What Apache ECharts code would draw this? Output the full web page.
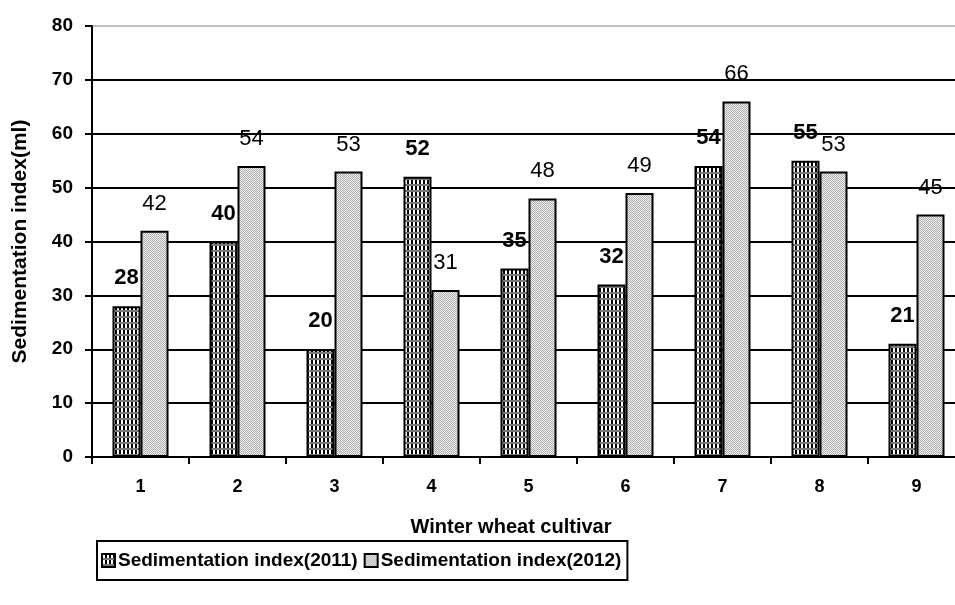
<!DOCTYPE html>
<html>
<head>
<meta charset="utf-8">
<script src="https://cdn.jsdelivr.net/npm/echarts@6/dist/echarts.min.js"></script>
<style>html,body{margin:0;padding:0;background:#fff}#c{width:955px;height:605px}</style>
</head>
<body>
<div id="c"></div>
<script>
var categories = ['1','2','3','4','5','6','7','8','9'];
var values2011 = [28, 40, 20, 52, 35, 32, 54, 55, 21];
var values2012 = [42, 54, 53, 31, 48, 49, 66, 53, 45];
var yTicks = [0, 10, 20, 30, 40, 50, 60, 70, 80];
var seriesNames = ['Sedimentation index(2011)', 'Sedimentation index(2012)'];

function makeTile(w, h, fn) {
  var c = document.createElement('canvas');
  c.width = w; c.height = h;
  var ctx = c.getContext('2d');
  for (var y = 0; y < h; y++) for (var x = 0; x < w; x++) {
    ctx.fillStyle = fn(x, y); ctx.fillRect(x, y, 1, 1);
  }
  return c;
}
var tileA = makeTile(4, 6, function (x, y) {
  if (y >= 4) return '#7a7a7a';
  return ['#000', '#fff', '#fff', '#000'][x];
});
var tileB = makeTile(2, 2, function (x, y) {
  return ((x + y) % 2) ? '#eeeeee' : '#b0b0b0';
});
var patA = { image: tileA, repeat: 'repeat' };
var patB = { image: tileB, repeat: 'repeat' };

var FONT = "'Liberation Sans', Arial, sans-serif";
var chart = echarts.init(document.getElementById('c'));
var splitColors = yTicks.map(function (v, i) { return i === yTicks.length - 1 ? '#c0c0c0' : '#000'; });

chart.setOption({
  animation: false,
  textStyle: { fontFamily: FONT },
  title: {
    text: 'Winter wheat cultivar', left: 506, top: 512, textAlign: 'center',
    textStyle: { fontFamily: FONT, fontSize: 20, fontWeight: 'bold', color: '#000' }
  },
  grid: { left: 92, top: 26, width: 873, height: 431, outerBoundsMode: 'none', containLabel: false },
  legend: {
    left: 97, top: 541, orient: 'horizontal',
    padding: [10, 6, 10, 4], itemGap: 6, itemWidth: 13, itemHeight: 13,
    borderColor: '#000', borderWidth: 2,
    icon: 'rect',
    textStyle: { fontFamily: FONT, fontSize: 19, fontWeight: 'bold', color: '#000', padding: [0, 0, 0, -2] },
    data: seriesNames
  },
  xAxis: {
    type: 'category', data: categories,
    axisLine: { lineStyle: { color: '#000', width: 2 } },
    axisTick: { show: true, length: 7, lineStyle: { color: '#000', width: 2 } },
    axisLabel: { fontFamily: FONT, fontSize: 18, fontWeight: 'bold', color: '#000', margin: 21 }
  },
  yAxis: {
    type: 'value', min: 0, max: 80, interval: 10,
    axisLine: { show: true, lineStyle: { color: '#000', width: 2 } },
    axisTick: { show: true, length: 7, lineStyle: { color: '#000', width: 2 } },
    axisLabel: { fontFamily: FONT, fontSize: 19, fontWeight: 'bold', color: '#000', margin: 19 },
    splitLine: { show: true, lineStyle: { color: splitColors, width: 2 } },
    name: 'Sedimentation index(ml)', nameLocation: 'middle', nameGap: 61,
    nameTextStyle: { fontFamily: FONT, fontSize: 21, fontWeight: 'bold', color: '#000' }
  },
  series: [
    {
      name: seriesNames[0], type: 'bar', data: values2011, barWidth: 28, barGap: '0%',
      itemStyle: { color: patA, borderColor: '#000', borderWidth: 2 },
      label: { show: true, position: 'top', distance: 17, fontFamily: FONT, fontSize: 22, fontWeight: 'bold', color: '#000' }
    },
    {
      name: seriesNames[1], type: 'bar', data: values2012, barWidth: 28,
      itemStyle: { color: patB, borderColor: '#000', borderWidth: 2 },
      label: { show: true, position: 'top', distance: 16, fontFamily: FONT, fontSize: 22, color: '#000' }
    }
  ]
});
</script>
</body>
</html>
